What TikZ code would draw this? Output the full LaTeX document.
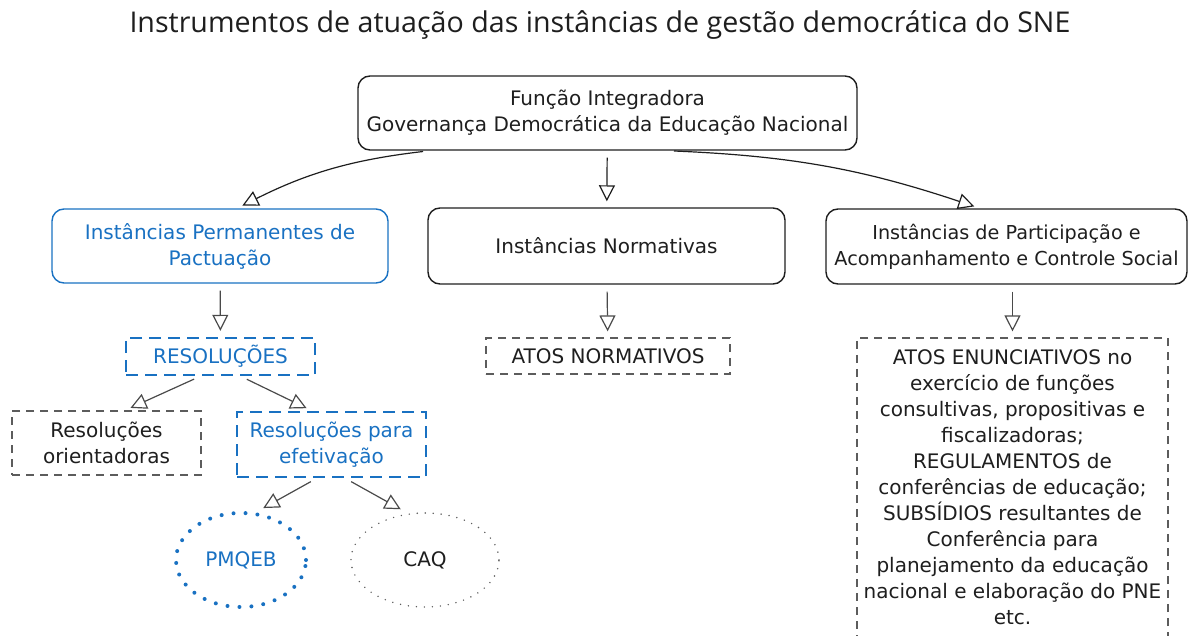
\documentclass[tikz,border=0pt]{standalone}
\usepackage{fontspec}
\setmainfont{DejaVu Sans}
\newfontfamily\titlefont{Open Sans}
\usetikzlibrary{shapes.geometric,arrows.meta}

\definecolor{ink}{HTML}{1E1E1E}
\definecolor{exblue}{HTML}{1971C2}
\definecolor{dashgray}{HTML}{5C5C5C}
\definecolor{arrowgray}{HTML}{4A4A4A}

\tikzstyle{item} = [rectangle, rounded corners=6pt, draw=ink, line width=0.7pt, text=ink, align=center, inner sep=0pt, font=\fontsize{10}{13}\selectfont]
\tikzstyle{blueitem} = [item, draw=exblue, text=exblue]
\tikzstyle{dashitem} = [rectangle, draw=dashgray, line width=0.6pt, dash pattern=on 4pt off 3pt, text=ink, align=center, inner sep=0pt, font=\fontsize{10}{13}\selectfont]
\tikzstyle{bluedash} = [dashitem, draw=exblue, text=exblue, line width=1.2pt, dash pattern=on 6pt off 3.5pt]
\tikzstyle{arrow} = [line width=0.6pt, draw=ink, -{Triangle[open,length=8pt,width=8pt]}, shorten <=3.5pt, shorten >=3pt]
\tikzstyle{subarrow} = [arrow, draw=arrowgray]

\begin{document}
\begin{tikzpicture}[x=0.5pt, y=-0.5pt]
\useasboundingbox (0,0) rectangle (1189,636);
\clip (0,0) rectangle (1189,636);

\node (title) at (600,25) [text=ink, font=\titlefont\fontsize{14.3}{17}\selectfont] {Instrumentos de atuação das instâncias de gestão democrática do SNE};

\node (funcao) at (607.5,113) [item, minimum width=249.5pt, minimum height=37pt] {Função Integradora\\Governança Democrática da Educação Nacional};
\node (perm) at (220,246) [blueitem, minimum width=168pt, minimum height=37pt] {Instâncias Permanentes de\\Pactuação};
\node (norm) at (606.5,246) [item, minimum width=178.5pt, minimum height=38pt] {Instâncias Normativas};
\node (part) at (1006.5,246.5) [item, minimum width=180.5pt, minimum height=37.5pt, font=\fontsize{9.6}{13}\selectfont] {Instâncias de Participação e\\Acompanhamento e Controle Social};

\node (resol) at (220.5,356.5) [bluedash, minimum width=94.5pt, minimum height=18.5pt] {RESOLUÇÕES};
\node (orient) at (106.5,443) [dashitem, minimum width=94.5pt, minimum height=32pt] {Resoluções\\orientadoras};
\node (efet) at (331.5,444.5) [bluedash, minimum width=94.5pt, minimum height=32.5pt] {Resoluções para\\efetivação};

\node (pmqeb) at (241,560) [ellipse, draw=exblue, text=exblue, line width=2pt, line cap=round, dash pattern=on 0pt off 6pt, minimum width=65pt, minimum height=47pt, inner sep=0pt, font=\fontsize{10}{13}\selectfont] {PMQEB};
\node (caq) at (425,560) [ellipse, draw=dashgray, text=ink, line width=0.8pt, line cap=round, dash pattern=on 0pt off 4pt, minimum width=74pt, minimum height=47pt, inner sep=0pt, font=\fontsize{10}{13}\selectfont] {CAQ};

\node (atosnorm) at (608,356) [dashitem, minimum width=122pt, minimum height=18pt] {ATOS NORMATIVOS};
\node (atosenun) at (1012.5,487.5) [dashitem, minimum width=155.5pt, minimum height=149.5pt] {ATOS ENUNCIATIVOS no\\exercício de funções\\consultivas, propositivas e\\fiscalizadoras;\\REGULAMENTOS de\\conferências de educação;\\SUBSÍDIOS resultantes de\\Conferência para\\planejamento da educação\\nacional e elaboração do PNE\\etc.};

\draw [arrow] ([xshift=-88.75pt]funcao.south) to[bend right=10] ([xshift=8.5pt]perm.north);
\draw [arrow] (funcao) -- (norm);
\draw [arrow] ([xshift=29.75pt]funcao.south) to[bend left=8] ([xshift=-13.25pt]part.north);

\draw [subarrow] (perm) -- (resol);
\draw [subarrow] ([xshift=-10pt]resol.south) -- ([xshift=9.25pt]orient.north);
\draw [subarrow] ([xshift=10pt]resol.south) -- ([xshift=-9.75pt]efet.north);
\draw [subarrow] ([xshift=-7.25pt]efet.south) -- ([xshift=8.5pt]pmqeb.north);
\draw [subarrow] ([xshift=6.75pt]efet.south) -- ([xshift=-9.5pt]caq.north);
\draw [subarrow] (norm) -- (atosnorm);
\draw [subarrow] (part.south -| atosenun.north) -- (atosenun.north);
\end{tikzpicture}
\end{document}
